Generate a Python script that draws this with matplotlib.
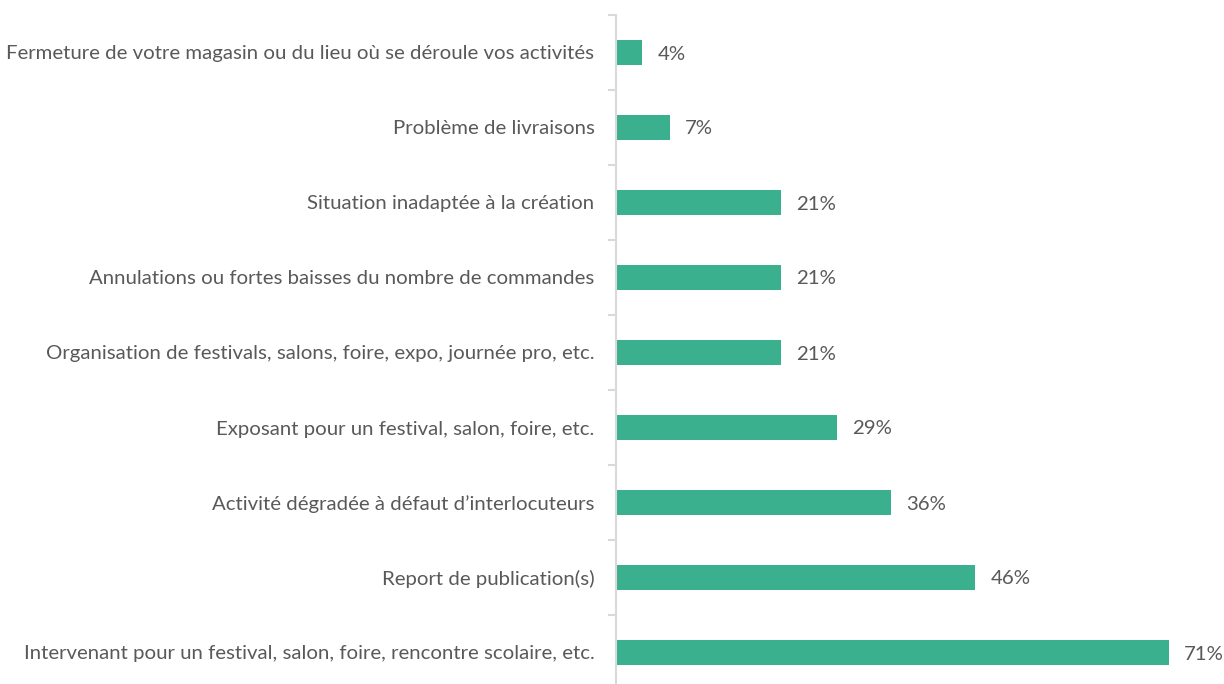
import matplotlib
matplotlib.use("Agg")
import matplotlib.pyplot as plt

categories = [
    "Fermeture de votre magasin ou du lieu où se déroule vos activités",
    "Problème de livraisons",
    "Situation inadaptée à la création",
    "Annulations ou fortes baisses du nombre de commandes",
    "Organisation de festivals, salons, foire, expo, journée pro, etc.",
    "Exposant pour un festival, salon, foire, etc.",
    "Activité dégradée à défaut d\u2019interlocuteurs",
    "Report de publication(s)",
    "Intervenant pour un festival, salon, foire, rencontre scolaire, etc.",
]
# bar lengths; printed labels are the rounded ones
values = [3.4, 6.9, 21.2, 21.2, 21.2, 28.4, 35.3, 46.1, 71.0]
labels = ["4%", "7%", "21%", "21%", "21%", "29%", "36%", "46%", "71%"]

_BAR = "#3BB08F"
_TEXT = "#595959"
_GRID = "#D9D9D9"
_FS = 14.7

plt.rcParams["font.family"] = ["Lato", "DejaVu Sans"]

fig = plt.figure(figsize=(12.24, 6.84), dpi=100)
ax = fig.add_axes([616 / 1224, -6 / 684, 584 / 1224, 675 / 684])

y = range(len(categories))
ax.barh(y, values, height=0.34, color=_BAR)
ax.set_ylim(len(categories) - 0.5, -0.5)
ax.set_xlim(0, 75)

ax.set_yticks(list(y))
ax.set_yticklabels(categories, fontsize=_FS, color=_TEXT, va="center_baseline")
ax.set_yticks([i - 0.5 for i in range(len(categories) + 1)], minor=True)
ax.tick_params(axis="y", which="major", length=0, pad=15.5)
ax.tick_params(axis="y", which="minor", length=6, width=1.5, color=_GRID)
ax.set_xticks([])

for s in ["top", "right", "bottom"]:
    ax.spines[s].set_visible(False)
ax.spines["left"].set_color(_GRID)
ax.spines["left"].set_linewidth(1.5)

for i, (v, lab) in enumerate(zip(values, labels)):
    ax.annotate(lab, (v, i), xytext=(11, 0), textcoords="offset points",
                va="center_baseline", ha="left", fontsize=_FS, color=_TEXT)

fig.savefig("out.png", dpi=100, facecolor="white")
